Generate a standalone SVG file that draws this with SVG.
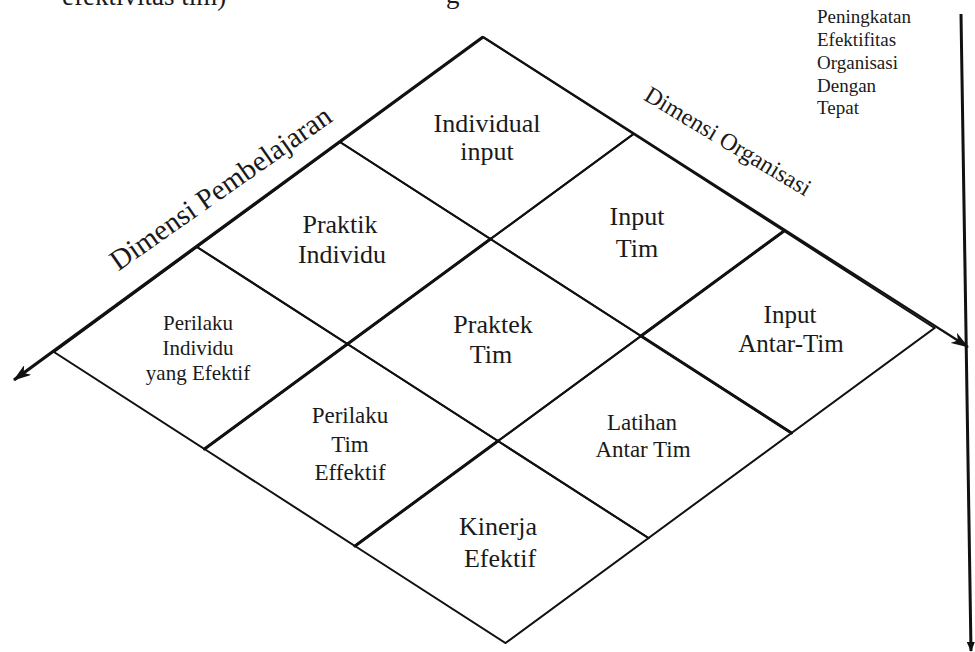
<svg xmlns="http://www.w3.org/2000/svg" width="975" height="652" viewBox="0 0 975 652" style="font-family: 'Liberation Serif', 'DejaVu Serif', serif">
  <style>
    .cell { fill: none; stroke: #111; stroke-width: 2; stroke-linejoin: miter; }
    text { font-family: "Liberation Serif", "DejaVu Serif", serif; fill: #1a1a1a; }
    .lbl { text-anchor: middle; }
    .f26 { font-size: 26px; }
    .f25 { font-size: 25px; }
    .f23 { font-size: 23px; }
    .f21 { font-size: 21px; }
    .side { font-size: 19px; }
    .page { font-size: 27px; }
    .axis { fill: none; stroke: #111; stroke-linecap: butt; }
    .thick { fill: none; stroke: #111; stroke-width: 3; stroke-linecap: round; }
  </style>
  <defs>
    <marker id="arrow" viewBox="0 0 18 12" refX="17" refY="6" markerWidth="18" markerHeight="12" markerUnits="userSpaceOnUse" orient="auto">
      <path d="M0,0 L18,6 L0,12 L5,6 Z" fill="#111"/>
    </marker>
    <marker id="arrow-sm" viewBox="0 0 10 8" refX="9" refY="4" markerWidth="10" markerHeight="8" markerUnits="userSpaceOnUse" orient="auto">
      <path d="M0,0 L10,4 L0,8 Z" fill="#111"/>
    </marker>
  </defs>

  <rect width="975" height="652" fill="#ffffff"/>

  <!-- running text of the page, cut at the top edge -->
  <text class="page" x="62" y="5">efektivitas tim)</text>
  <text class="page" x="446" y="3">g</text>

  <!-- cells of the 3x3 grid -->
  <g id="individual-input">
    <polygon class="cell" points="483,37 633.5,134 490.5,239 340,142"/>
    <text class="lbl f26" x="487" y="132">Individual</text>
    <text class="lbl f26" x="487" y="160">input</text>
  </g>
  <g id="input-tim">
    <polygon class="cell" points="633.5,134 784,231 641,336 490.5,239"/>
    <text class="lbl f26" x="637" y="225">Input</text>
    <text class="lbl f26" x="637" y="257">Tim</text>
  </g>
  <g id="input-antar-tim">
    <polygon class="cell" points="784,231 934.5,328 791.5,433 641,336"/>
    <text class="lbl f25" x="790" y="323">Input</text>
    <text class="lbl f25" x="791" y="352">Antar-Tim</text>
  </g>
  <g id="praktik-individu">
    <polygon class="cell" points="340,142 490.5,239 347.5,344 197,247"/>
    <text class="lbl f26" x="340" y="233">Praktik</text>
    <text class="lbl f26" x="342" y="263">Individu</text>
  </g>
  <g id="praktek-tim">
    <polygon class="cell" points="490.5,239 641,336 498,441 347.5,344"/>
    <text class="lbl f26" x="493" y="333">Praktek</text>
    <text class="lbl f26" x="491" y="363">Tim</text>
  </g>
  <g id="latihan-antar-tim">
    <polygon class="cell" points="641,336 791.5,433 648.5,538 498,441"/>
    <text class="lbl f23" x="642" y="430">Latihan</text>
    <text class="lbl f23" x="643" y="457">Antar Tim</text>
  </g>
  <g id="perilaku-individu">
    <polygon class="cell" points="197,247 347.5,344 204.5,449 54,352"/>
    <text class="lbl f21" x="198" y="330">Perilaku</text>
    <text class="lbl f21" x="198" y="355">Individu</text>
    <text class="lbl f21" x="198" y="380">yang Efektif</text>
  </g>
  <g id="perilaku-tim">
    <polygon class="cell" points="347.5,344 498,441 355,546 204.5,449"/>
    <text class="lbl f23" x="350" y="423">Perilaku</text>
    <text class="lbl f23" x="350" y="452">Tim</text>
    <text class="lbl f23" x="350" y="480">Effektif</text>
  </g>
  <g id="kinerja-efektif">
    <polygon class="cell" points="498,441 648.5,538 505.5,643 355,546"/>
    <text class="lbl f26" x="498" y="535">Kinerja</text>
    <text class="lbl f26" x="500" y="567">Efektif</text>
  </g>

  <!-- axes and heavier grid strokes -->
  <g id="connectors">
    <line class="axis" x1="483" y1="37" x2="14" y2="380" stroke-width="3.2" marker-end="url(#arrow)"/>
    <line class="axis" x1="483" y1="37" x2="968" y2="347" stroke-width="2.2" marker-end="url(#arrow)"/>
    <line class="axis" x1="961" y1="14" x2="971" y2="651" stroke-width="3" marker-end="url(#arrow-sm)"/>
    <line class="thick" x1="490.5" y1="239" x2="347.5" y2="344"/>
    <line class="thick" x1="498" y1="441" x2="355" y2="546"/>
    <line class="thick" x1="641" y1="336" x2="791.5" y2="433"/>
    <line class="thick" x1="784" y1="231" x2="641" y2="336" stroke-width="2.6"/>
    <line class="thick" x1="347.5" y1="344" x2="204.5" y2="449" stroke-width="2.6"/>
  </g>

  <!-- axis titles -->
  <text class="lbl" x="226" y="196" font-size="29" transform="rotate(-35 226 196)">Dimensi Pembelajaran</text>
  <text class="lbl" x="724" y="148" font-size="24" transform="rotate(31 724 148)">Dimensi Organisasi</text>

  <!-- side note -->
  <g id="side-note">
    <text class="side" x="817" y="23">Peningkatan</text>
    <text class="side" x="817" y="46">Efektifitas</text>
    <text class="side" x="817" y="69">Organisasi</text>
    <text class="side" x="817" y="92">Dengan</text>
    <text class="side" x="817" y="114">Tepat</text>
  </g>
</svg>
